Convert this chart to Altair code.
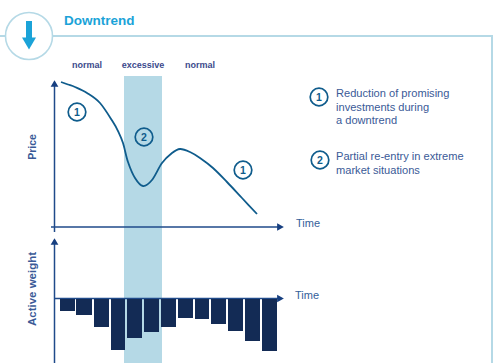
import altair as alt
import pandas as pd

# Canvas-unit scales: x runs left to right, y runs top to bottom
W, H = 495, 363
FONT = "Liberation Sans"
LIGHT = "#b5d9e6"
SKY = "#1ba3d8"
NAVY = "#1f4a8a"
CURVE = "#0f5c8c"
BAR = "#132b55"
TEXT = "#3a5a97"

# Price path
price_t = [61, 68, 75, 87, 100, 113, 118, 123, 128, 135, 143, 152, 162, 172, 180, 190, 200, 213, 227, 242, 257]
price_v = [82, 84.5, 87, 93, 103, 122, 131, 143, 162, 178, 186, 180, 163, 153, 149, 152, 158, 168, 182, 198, 214]

# Active weight bars
bar_left = [60, 76, 94, 111, 127, 144, 161, 178, 195, 211, 228, 245, 262]
bar_right = [75, 92, 109, 125, 142, 159, 176, 193, 209, 226, 243, 260, 277]
bar_bottom = [311, 315, 327, 350, 338, 332, 327, 318, 319, 324, 331, 341, 351]
bar_top = 299

# Regime labels
regime_names = ["normal", "excessive", "normal"]
regime_x = [87, 143, 200]

# Numbered markers
marker_x = [77, 144, 243, 319, 320]
marker_y = [112, 137, 170, 97, 160]
marker_num = ["1", "2", "1", "1", "2"]

# Explanatory notes
note_lines = ["Reduction of promising", "investments during", "a downtrend",
              "Partial re-entry in extreme", "market situations"]
note_y = [94, 107.5, 121, 157, 171]

xs = alt.Scale(domain=[0, W], range=[0, W], nice=False, zero=False)
ys = alt.Scale(domain=[0, H], range=[0, H], nice=False, zero=False)


def X(field="x"):
    return alt.X(f"{field}:Q", scale=xs, axis=None)


def Y(field="y"):
    return alt.Y(f"{field}:Q", scale=ys, axis=None)


def rules(rows, color, width):
    df = pd.DataFrame(rows, columns=["x", "x2", "y", "y2"])
    return alt.Chart(df).mark_rule(color=color, strokeWidth=width).encode(
        x=X(), x2="x2:Q", y=Y(), y2="y2:Q")


def points(xv, yv, shape, size, color):
    df = pd.DataFrame({"x": xv, "y": yv})
    return alt.Chart(df).mark_point(
        shape=shape, size=size, filled=True, color=color, opacity=1).encode(x=X(), y=Y())


def texts(labels, xv, yv, size, color, bold=False, align="left", angle=0):
    df = pd.DataFrame({"x": xv, "y": yv, "t": labels})
    return alt.Chart(df).mark_text(
        font=FONT, fontSize=size, color=color, align=align, baseline="middle",
        fontWeight="bold" if bold else "normal", angle=angle).encode(
        x=X(), y=Y(), text="t:N")


# Header frame and badge
frame = rules([[0, 5, 36, 36], [53, 493, 36, 36], [492, 492, 36, 363]], LIGHT, 2)
badge = alt.Chart(pd.DataFrame({"x": [29], "y": [36]})).mark_point(
    shape="circle", size=2209, filled=False, fill="white", fillOpacity=1,
    stroke=LIGHT, strokeWidth=1.6, opacity=1).encode(x=X(), y=Y())
down_shaft = rules([[29, 29, 21, 38]], SKY, 6)
down_head = points([29], [43.5], "triangle-down", 196, SKY)
title = texts(["Downtrend"], [64], [21], 13.5, SKY, bold=True)

# Excessive regime band
band = alt.Chart(pd.DataFrame({"x": [124], "x2": [162], "y": [76], "y2": [H]})).mark_rect(
    color=LIGHT).encode(x=X(), x2="x2:Q", y=Y(), y2="y2:Q")
regimes = texts(regime_names, regime_x, [64.5, 64.5, 64.5], 9, "#3c4a8c", bold=True, align="center")

# Axes with arrowheads
axes = rules([[54.5, 54.5, 84, 232], [51, 279, 227, 227],
              [54.5, 54.5, 240, H], [54, 279, 298.5, 298.5]], NAVY, 1.5)
arrows_up = points([54.5, 54.5], [83.5, 241.5], "triangle-up", 60, "#173f80")
arrows_right = points([280.5, 280.5], [227, 298.5], "triangle-right", 60, "#173f80")

# Price curve
price = alt.Chart(pd.DataFrame({"x": price_t, "y": price_v})).mark_line(
    color=CURVE, strokeWidth=1.8, interpolate="cardinal").encode(x=X(), y=Y())

# Active weight bars, hanging from the time axis
bars = alt.Chart(pd.DataFrame({
    "x": bar_left, "x2": bar_right, "y": [bar_top] * len(bar_left), "y2": bar_bottom,
})).mark_rect(color=BAR).encode(x=X(), x2="x2:Q", y=Y(), y2="y2:Q")

# Numbered markers
mark_df = pd.DataFrame({"x": marker_x, "y": marker_y, "t": marker_num})
rings = alt.Chart(mark_df).mark_point(
    shape="circle", size=310, filled=False, stroke=CURVE, strokeWidth=1.7, opacity=1
).encode(x=X(), y=Y())
nums = alt.Chart(mark_df.assign(y=[v + 0.5 for v in marker_y])).mark_text(
    font=FONT, fontSize=10.5, fontWeight="bold", color=CURVE, align="center", baseline="middle"
).encode(x=X(), y=Y(), text="t:N")

# Axis captions and notes
time_labels = texts(["Time", "Time"], [296, 295], [224, 296], 11, "#33609a")
price_label = texts(["Price"], [33], [147], 10.5, TEXT, bold=True, align="center", angle=270)
weight_label = texts(["Active weight"], [33], [289], 11.5, TEXT, bold=True, align="center", angle=270)
notes = texts(note_lines, [336] * 5, note_y, 11.1, TEXT)

chart = alt.layer(
    band, frame, badge, down_shaft, down_head, title, regimes,
    price, axes, arrows_up, arrows_right, bars,
    rings, nums, time_labels, price_label, weight_label, notes,
).properties(
    width=W, height=H, padding=0, background="white",
    autosize=alt.AutoSizeParams(type="none"),
).configure_view(stroke=None)

chart.save("out.html", embed_options={"renderer": "svg", "actions": False})
